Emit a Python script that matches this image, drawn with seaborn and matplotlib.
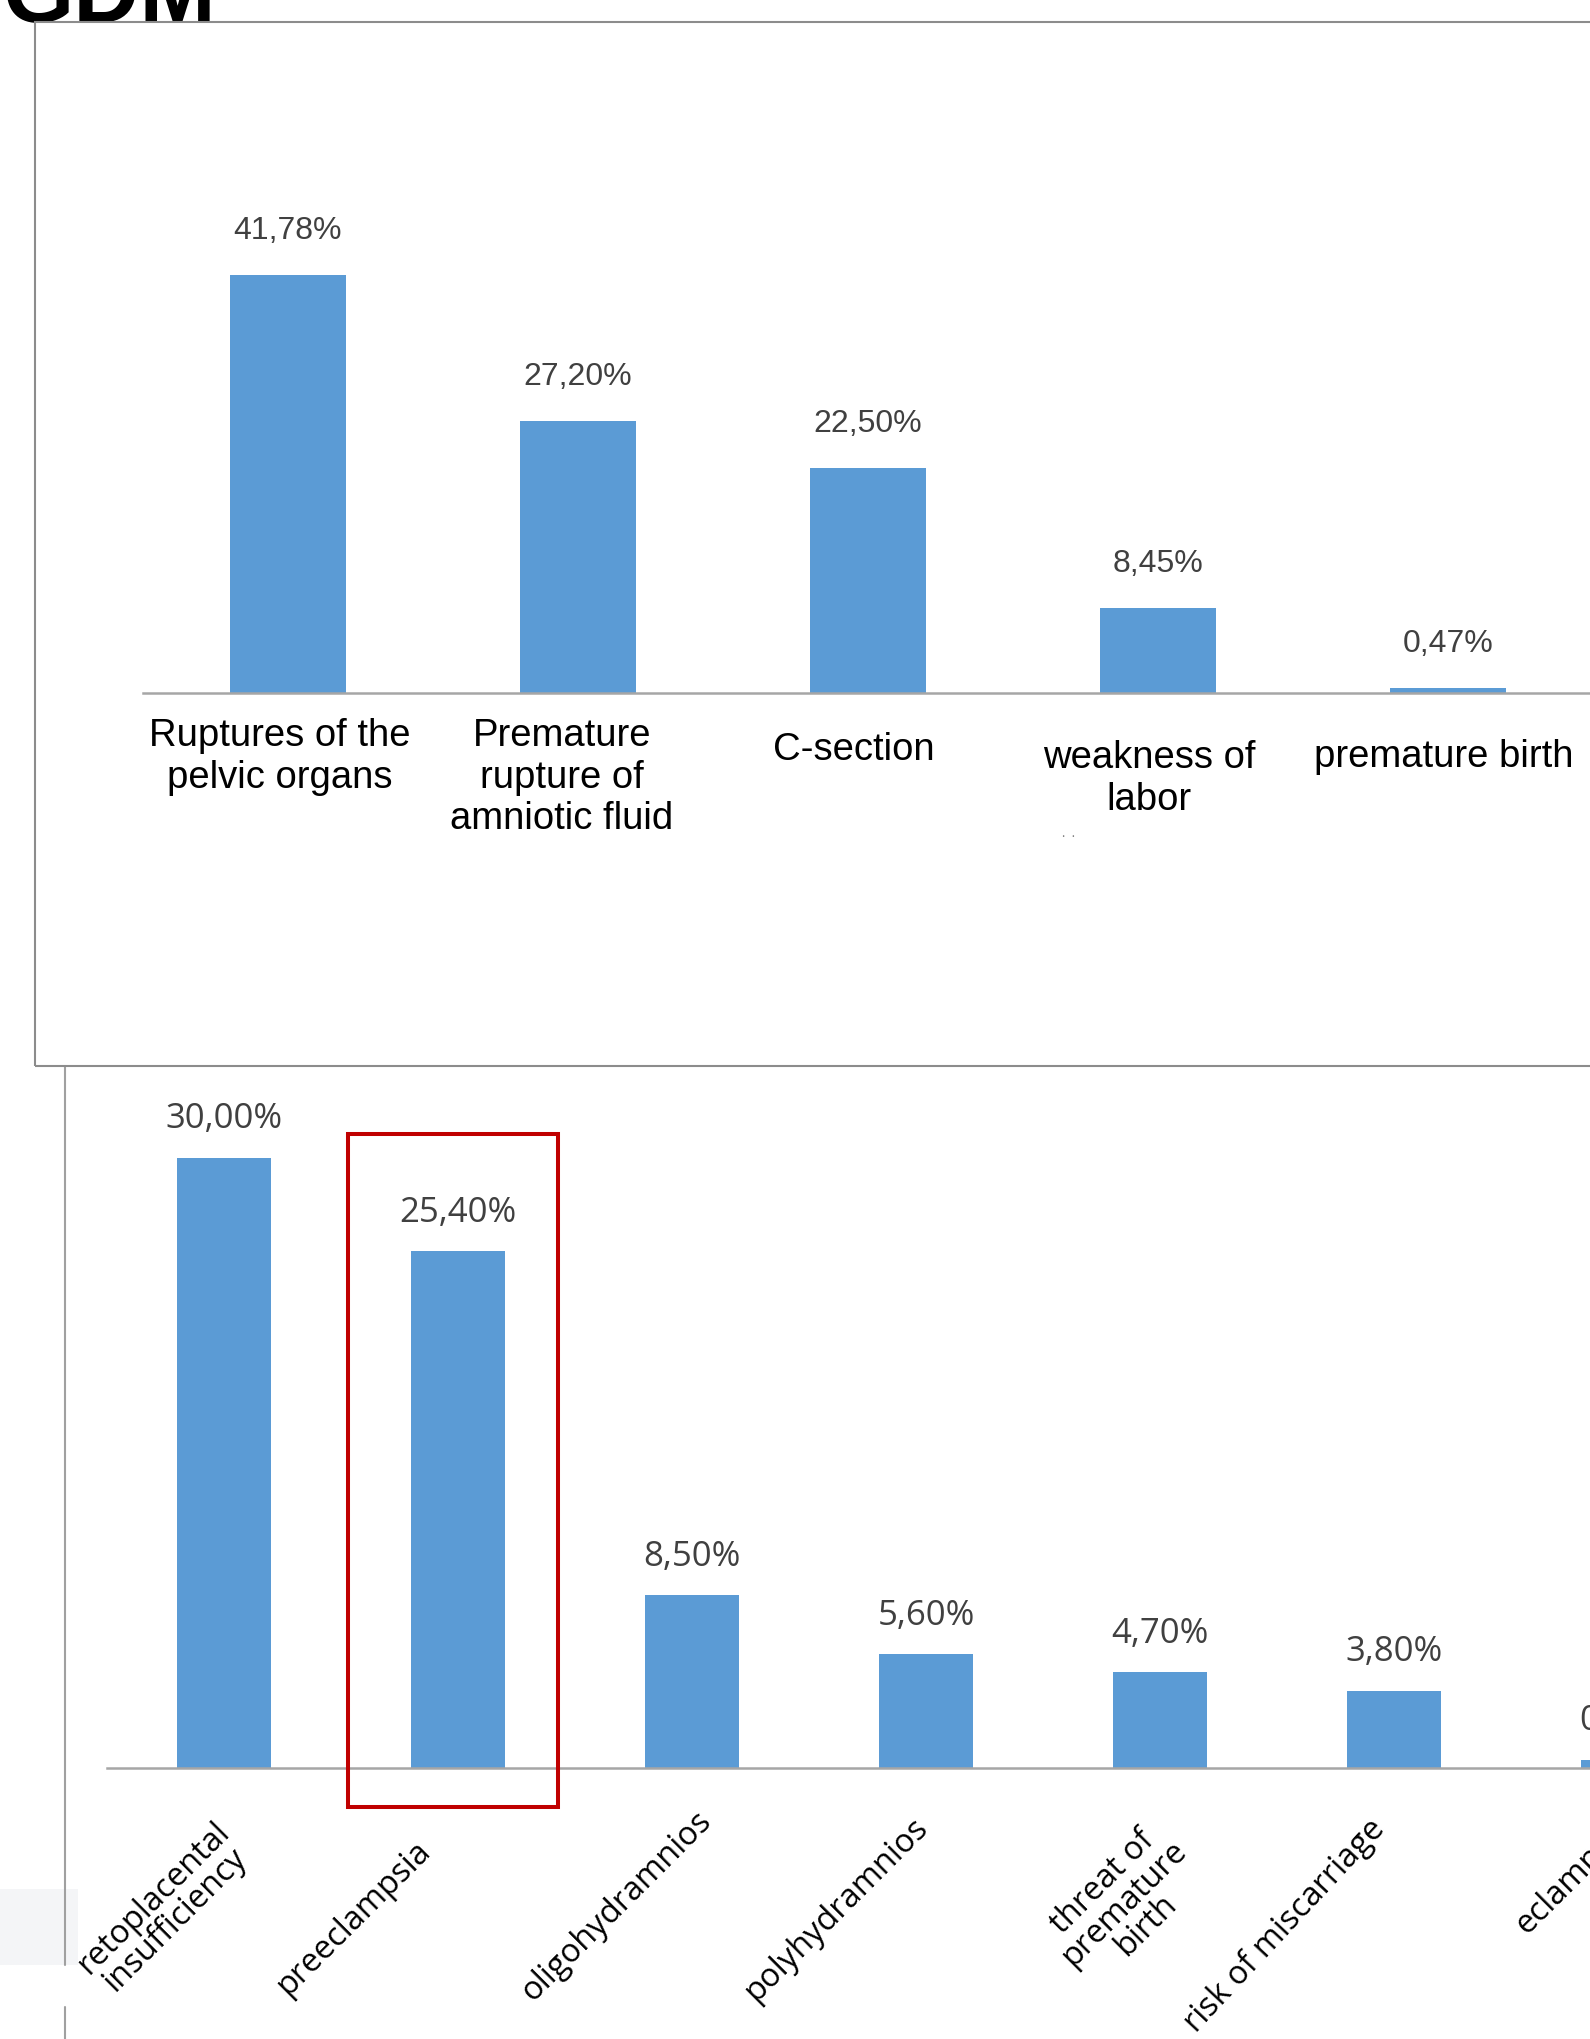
import matplotlib
matplotlib.use("Agg")
import matplotlib.pyplot as plt
from matplotlib import font_manager
from matplotlib.patches import Rectangle
from matplotlib.lines import Line2D
import pandas as pd
import seaborn as sns

# ---------------- data ----------------
title_text = "GDM"

top_categories = ["Ruptures of the\npelvic organs", "Premature\nrupture of\namniotic fluid",
                  "C-section", "weakness of\nlabor", "premature birth"]
top_values = [41.78, 27.20, 22.50, 8.45, 0.47]
top_value_labels = ["41,78%", "27,20%", "22,50%", "8,45%", "0,47%"]

bottom_categories = ["retoplacental\ninsufficiency", "preeclampsia", "oligohydramnios",
                     "polyhydramnios", "threat of\npremature\nbirth", "risk of miscarriage",
                     "eclampsia"]
bottom_values = [30.00, 25.40, 8.50, 5.60, 4.70, 3.80, 0.40]
bottom_value_labels = ["30,00%", "25,40%", "8,50%", "5,60%", "4,70%", "3,80%", "0,40%"]

# label placement tweaks (pixels): (dx, dy below axis to top of text)
top_label_offsets = [(-8, 25), (-16, 25), (-14, 39), (-9, 47), (-4, 46)]
bottom_label_offsets = [(12, 70), (-32, 78), (14, 48), (-3, 55), (22, 78), (-14, 56), (0, 54)]
bottom_label_angles = [45, 45, 45, 45, 45, 47, 45]

# ---------------- style ----------------
W, H = 1590, 2039
BAR = "#5b9bd5"
sns.set_theme(style="white")
available = {f.name for f in font_manager.fontManager.ttflist}
if "Liberation Sans Narrow" in available:
    NARROW, cat_size, val_size, cat_ls = "Liberation Sans Narrow", 33, 27, 1.02
else:
    NARROW, cat_size, val_size, cat_ls = "Liberation Sans", 27.5, 23, 1.2
plt.rcParams["font.family"] = ["Open Sans", "DejaVu Sans"]

fig = plt.figure(figsize=(W / 100, H / 100), dpi=100)
fig.patch.set_facecolor("white")

# ---------------- top chart ----------------
ax1 = fig.add_axes([143 / W, 1 - 693 / H, 1450 / W, 500 / H])
df_top = pd.DataFrame({"cat": top_categories, "val": top_values})
sns.barplot(data=df_top, x="cat", y="val", order=top_categories, color=BAR,
            saturation=1, width=0.4, linewidth=0, ax=ax1)
ax1.set_xlim(-0.5, len(top_categories) - 0.5)
ax1.set_ylim(0, 50)
ax1.set_xticks([])
ax1.set_yticks([])
ax1.set_xlabel("")
ax1.set_ylabel("")
for s in ["left", "right", "top"]:
    ax1.spines[s].set_visible(False)
ax1.spines["bottom"].set_color("#a6a6a6")
ax1.spines["bottom"].set_linewidth(1.8)
ax1.patch.set_alpha(0)

for i, (v, t) in enumerate(zip(top_values, top_value_labels)):
    ax1.annotate(t, xy=(i, v), xytext=(0, 36), textcoords="offset pixels",
                 ha="center", va="baseline", fontsize=val_size,
                 family=[NARROW, "DejaVu Sans"], color="#404040", annotation_clip=False)
for i, (cat, (dx, dy)) in enumerate(zip(top_categories, top_label_offsets)):
    ax1.annotate(cat, xy=(i, 0), xytext=(dx, -dy), textcoords="offset pixels",
                 ha="center", va="top", multialignment="center",
                 fontsize=cat_size, family=[NARROW, "DejaVu Sans"], color="black",
                 linespacing=cat_ls, annotation_clip=False)
ax1.annotate("·  ·", xy=(3, 0), xytext=(-90, -145), textcoords="offset pixels",
             ha="center", va="center", fontsize=9, color="#777777", annotation_clip=False)

# ---------------- bottom chart ----------------
ax2 = fig.add_axes([107 / W, 1 - 1768 / H, 1638 / W, 651 / H])
df_bot = pd.DataFrame({"cat": bottom_categories, "val": bottom_values})
sns.barplot(data=df_bot, x="cat", y="val", order=bottom_categories, color=BAR,
            saturation=1, width=0.4, linewidth=0, ax=ax2)
ax2.set_xlim(-0.5, len(bottom_categories) - 0.5)
ax2.set_ylim(0, 32)
ax2.set_xticks([])
ax2.set_yticks([])
ax2.set_xlabel("")
ax2.set_ylabel("")
for s in ["left", "right", "top"]:
    ax2.spines[s].set_visible(False)
ax2.spines["bottom"].set_color("#a6a6a6")
ax2.spines["bottom"].set_linewidth(1.8)
ax2.patch.set_alpha(0)

for i, (v, t) in enumerate(zip(bottom_values, bottom_value_labels)):
    ax2.annotate(t, xy=(i, v), xytext=(0, 29.5), textcoords="offset pixels",
                 ha="center", va="baseline", fontsize=25, family=["Open Sans", "DejaVu Sans"],
                 color="#404040", annotation_clip=False)
for i, (cat, (dx, dy), ang) in enumerate(zip(bottom_categories, bottom_label_offsets,
                                               bottom_label_angles)):
    ax2.annotate(cat, xy=(i, 0), xytext=(dx, -dy), textcoords="offset pixels",
                 rotation=ang, rotation_mode="anchor", ha="right", va="center",
                 multialignment="center", fontsize=23.5, family=["Open Sans", "DejaVu Sans"],
                 color="black", linespacing=0.9, annotation_clip=False)

# ---------------- decorations ----------------
# title (cut off at top)
fig.text(2 / W, 1 - 22 / H, title_text, fontsize=66, fontweight="bold",
         family=["Liberation Sans", "DejaVu Sans"], ha="left", va="baseline", color="black")
# top chart frame
fig.add_artist(Rectangle((35 / W, 1 - 1066 / H), (1620 - 35) / W, (1066 - 22) / H,
                         transform=fig.transFigure, fill=False, edgecolor="#8c8c8c",
                         linewidth=1.5, zorder=5))
# left border of lower chart
fig.add_artist(Line2D([65 / W, 65 / W], [1 - 1066 / H, 1 - 1965 / H],
                      transform=fig.transFigure, color="#a0a0a0", linewidth=1.5))
fig.add_artist(Line2D([65 / W, 65 / W], [1 - 2007 / H, 0],
                      transform=fig.transFigure, color="#a0a0a0", linewidth=1.5))
fig.add_artist(Rectangle((0, 1 - 1965 / H), 78 / W, 76 / H, transform=fig.transFigure,
                         facecolor="#f4f5f7", edgecolor="none"))
# red highlight box
fig.add_artist(Rectangle((348 / W, 1 - 1807 / H), 210 / W, (1807 - 1134) / H,
                         transform=fig.transFigure, fill=False, edgecolor="#c00000",
                         linewidth=2.9, zorder=6))

fig.savefig("out.png", dpi=100, facecolor="white")
